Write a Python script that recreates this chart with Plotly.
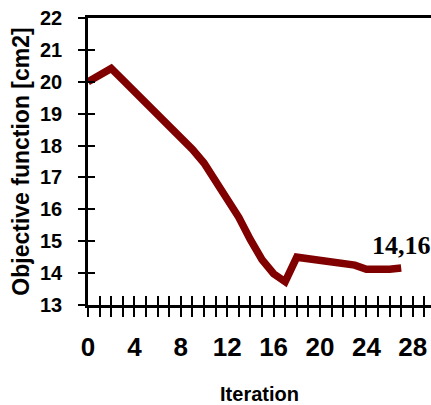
import plotly.graph_objects as go

iterations = list(range(0, 28))
objective = [20.0, 20.22, 20.42, 20.06, 19.7, 19.34, 18.98, 18.6, 18.25, 17.88,
             17.45, 16.9, 16.35, 15.75, 15.05, 14.42, 13.98, 13.73, 14.5, 14.45,
             14.4, 14.35, 14.3, 14.25, 14.12, 14.1, 14.12, 14.16]
x_range = [0, 29.57]
y_range = [13, 22]
final_label = f"{objective[-1]:.2f}".replace(".", ",")

sans = "Liberation Sans, Arial, sans-serif"

fig = go.Figure()
# invisible trace so the overlay axes (inside tick halves) are rendered
fig.add_trace(go.Scatter(x=iterations, y=objective, mode="lines",
                         line=dict(color="rgba(0,0,0,0)", width=0),
                         xaxis="x2", yaxis="y2", hoverinfo="skip"))
fig.add_trace(go.Scatter(x=iterations, y=objective, mode="lines",
                         line=dict(color="#800000", width=7.5),
                         xaxis="x", yaxis="y", hoverinfo="skip", cliponaxis=False))

fig.add_annotation(x=iterations[-1], y=objective[-1], text=final_label, showarrow=False,
                   xref="x", yref="y",
                   xanchor="center", yanchor="bottom", yshift=6,
                   font=dict(family="Liberation Serif, Times New Roman, serif", size=26,
                             color="black", weight="bold"))

common_x = dict(range=x_range, fixedrange=True, showgrid=False, zeroline=False, automargin=False)
common_y = dict(range=y_range, fixedrange=True, showgrid=False, zeroline=False, automargin=False)

fig.update_layout(
    width=431, height=405,
    margin=dict(l=88, r=0, t=18, b=100),
    paper_bgcolor="white", plot_bgcolor="white",
    showlegend=False,
    xaxis=dict(**common_x, showline=True, linecolor="black", linewidth=2.5, mirror=True,
               ticks="outside", ticklen=9, tickwidth=2, tickcolor="black",
               tick0=0, dtick=4,
               minor=dict(ticks="outside", ticklen=9, tickwidth=2, tickcolor="black", dtick=1, tick0=0),
               ticklabelstandoff=8,
               tickfont=dict(family=sans, size=26, color="black", weight="bold"),
               title=dict(text="Iteration", standoff=32,
                          font=dict(family=sans, size=20, color="black", weight="bold"))),
    yaxis=dict(**common_y, showline=True, linecolor="black", linewidth=2.5,
               ticks="outside", ticklen=7, tickwidth=2, tickcolor="black",
               tick0=13, dtick=1, ticklabelstandoff=12,
               tickfont=dict(family=sans, size=20, color="black", weight="bold"),
               title=dict(text="Objective function [cm2]", standoff=4,
                          font=dict(family=sans, size=23, color="black", weight="bold"))),
    xaxis2=dict(**common_x, overlaying="x", side="bottom", anchor="y2", showline=False,
                ticks="inside", ticklen=9, tickwidth=2, tickcolor="black",
                tick0=0, dtick=1, showticklabels=False),
    yaxis2=dict(**common_y, overlaying="y", side="left", anchor="x2", showline=False,
                ticks="inside", ticklen=7, tickwidth=2, tickcolor="black",
                tick0=13, dtick=1, showticklabels=False),
)

fig.write_html("out.html")
